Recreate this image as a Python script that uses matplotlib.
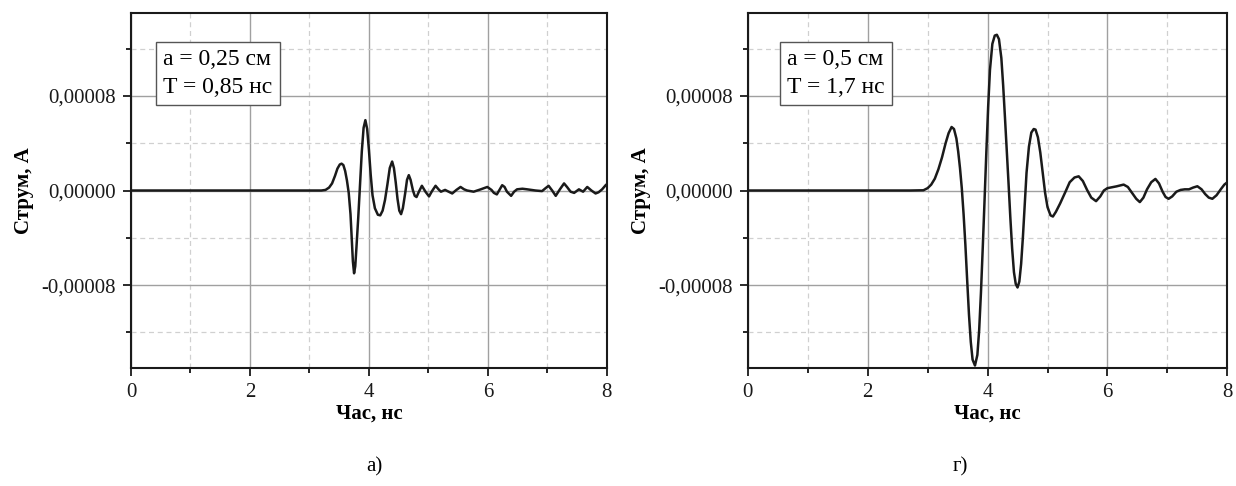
import matplotlib
matplotlib.use("Agg")
import matplotlib.pyplot as plt
from matplotlib.ticker import MultipleLocator, FuncFormatter

plt.rcParams['font.family'] = ['Liberation Serif', 'DejaVu Serif']

# панель а): a = 0,25 см, T = 0,85 нс  (час в нс, струм в А)
t_a = [0.0, 3.20, 3.27, 3.33, 3.38, 3.43, 3.47, 3.51, 3.54, 3.57, 3.60, 3.63, 3.66, 3.69,
       3.71, 3.73, 3.75, 3.77, 3.79, 3.82, 3.85, 3.88, 3.91, 3.94, 3.97, 4.00, 4.03, 4.06,
       4.10, 4.15, 4.19, 4.23, 4.27, 4.31, 4.35, 4.39, 4.42, 4.45, 4.48, 4.51, 4.54, 4.57,
       4.61, 4.64, 4.67, 4.70, 4.74, 4.77, 4.80, 4.84, 4.89, 4.95, 5.01, 5.06, 5.12, 5.17,
       5.21, 5.28, 5.34, 5.40, 5.47, 5.54, 5.60, 5.65, 5.76, 5.88, 5.99, 6.06, 6.10, 6.15,
       6.20, 6.24, 6.28, 6.32, 6.39, 6.44, 6.49, 6.58, 6.66, 6.80, 6.91, 6.97, 7.02, 7.08,
       7.14, 7.21, 7.28, 7.33, 7.39, 7.45, 7.53, 7.60, 7.67, 7.74, 7.81, 7.86, 7.92, 7.98]
i_a = [0.0, 0.0, 0.05e-5, 0.25e-5, 0.6e-5, 1.25e-5, 1.85e-5, 2.2e-5, 2.27e-5, 2.15e-5,
       1.65e-5, 0.85e-5, -0.2e-5, -2.0e-5, -4.0e-5, -6.0e-5, -7.0e-5, -6.4e-5, -4.8e-5,
       -2.3e-5, 0.5e-5, 3.3e-5, 5.3e-5, 5.95e-5, 5.2e-5, 3.4e-5, 1.3e-5, -0.4e-5, -1.5e-5,
       -2.05e-5, -2.1e-5, -1.7e-5, -0.8e-5, 0.5e-5, 1.9e-5, 2.45e-5, 1.9e-5, 0.7e-5,
       -0.7e-5, -1.7e-5, -2.0e-5, -1.5e-5, -0.2e-5, 0.9e-5, 1.3e-5, 0.9e-5, 0.0, -0.45e-5,
       -0.55e-5, -0.1e-5, 0.4e-5, -0.1e-5, -0.5e-5, -0.05e-5, 0.4e-5, 0.1e-5, -0.1e-5,
       0.05e-5, -0.1e-5, -0.25e-5, 0.05e-5, 0.3e-5, 0.1e-5, 0.0, -0.1e-5, 0.1e-5, 0.3e-5,
       0.05e-5, -0.2e-5, -0.33e-5, 0.1e-5, 0.45e-5, 0.3e-5, -0.1e-5, -0.45e-5, -0.1e-5,
       0.1e-5, 0.15e-5, 0.1e-5, 0.0, -0.05e-5, 0.2e-5, 0.4e-5, 0.0, -0.45e-5, 0.1e-5,
       0.6e-5, 0.3e-5, -0.1e-5, -0.2e-5, 0.1e-5, -0.1e-5, 0.3e-5, 0.0, -0.25e-5, -0.15e-5,
       0.1e-5, 0.45e-5]

# панель г): a = 0,5 см, T = 1,7 нс
t_g = [0.0, 2.71, 2.93, 3.00, 3.06, 3.12, 3.18, 3.24, 3.30, 3.35, 3.40, 3.44, 3.48, 3.51,
       3.54, 3.57, 3.60, 3.63, 3.66, 3.69, 3.72, 3.75, 3.79, 3.83, 3.86, 3.89, 3.92, 3.95,
       3.98, 4.01, 4.04, 4.08, 4.12, 4.155, 4.19, 4.23, 4.26, 4.29, 4.32, 4.35, 4.38, 4.41,
       4.44, 4.47, 4.50, 4.53, 4.56, 4.59, 4.62, 4.65, 4.69, 4.73, 4.77, 4.80, 4.84, 4.88,
       4.92, 4.96, 5.00, 5.05, 5.09, 5.14, 5.21, 5.30, 5.37, 5.45, 5.52, 5.59, 5.66, 5.73,
       5.81, 5.88, 5.94, 6.00, 6.05, 6.15, 6.27, 6.34, 6.41, 6.48, 6.54, 6.60, 6.66, 6.73,
       6.80, 6.86, 6.92, 6.97, 7.02, 7.08, 7.15, 7.22, 7.29, 7.36, 7.43, 7.50, 7.57, 7.63,
       7.69, 7.75, 7.82, 7.89, 7.95, 8.0]
i_g = [0.0, 0.0, 0.02e-5, 0.2e-5, 0.5e-5, 1.0e-5, 1.8e-5, 2.8e-5, 4.0e-5, 4.85e-5,
       5.37e-5, 5.2e-5, 4.4e-5, 3.3e-5, 1.9e-5, 0.2e-5, -2.0e-5, -4.6e-5, -7.6e-5,
       -10.5e-5, -12.8e-5, -14.3e-5, -14.8e-5, -13.9e-5, -11.8e-5, -8.6e-5, -4.8e-5,
       -0.8e-5, 3.3e-5, 7.1e-5, 10.2e-5, 12.4e-5, 13.1e-5, 13.17e-5, 12.8e-5, 11.2e-5,
       8.9e-5, 6.2e-5, 3.4e-5, 0.6e-5, -2.3e-5, -4.9e-5, -6.9e-5, -7.9e-5, -8.2e-5,
       -7.7e-5, -6.2e-5, -3.9e-5, -1.2e-5, 1.5e-5, 3.7e-5, 4.9e-5, 5.2e-5, 5.15e-5,
       4.5e-5, 3.2e-5, 1.5e-5, -0.2e-5, -1.4e-5, -2.1e-5, -2.2e-5, -1.8e-5, -1.1e-5,
       -0.1e-5, 0.7e-5, 1.1e-5, 1.2e-5, 0.8e-5, 0.05e-5, -0.6e-5, -0.9e-5, -0.5e-5, 0.0,
       0.2e-5, 0.25e-5, 0.35e-5, 0.5e-5, 0.3e-5, -0.2e-5, -0.7e-5, -0.98e-5, -0.6e-5,
       0.1e-5, 0.7e-5, 0.98e-5, 0.6e-5, -0.1e-5, -0.55e-5, -0.7e-5, -0.5e-5, -0.1e-5,
       0.05e-5, 0.1e-5, 0.1e-5, 0.25e-5, 0.36e-5, 0.1e-5, -0.3e-5, -0.6e-5, -0.7e-5,
       -0.4e-5, 0.1e-5, 0.5e-5, 0.7e-5]

labels = ["a = 0,25 см\nT = 0,85 нс", "a = 0,5 см\nT = 1,7 нс"]
captions = ["а)", "г)"]


def fmt_y(v, pos):
    s = ("%.5f" % v).replace(".", ",")
    return "0,00000" if s == "-0,00000" else s


fig = plt.figure(figsize=(12.36, 4.86), dpi=100)
ax1 = fig.add_axes([0.106, 0.243, 0.385, 0.730])
ax2 = fig.add_axes([0.605, 0.243, 0.388, 0.730])

panels = [(ax1, t_a, i_a, labels[0], captions[0], 0.068, 0.303),
          (ax2, t_g, i_g, labels[1], captions[1], 0.082, 0.777)]

for ax, t, i, lab, cap, bx, cx in panels:
    ax.plot(t, i, color="#1a1a1a", lw=1.8)
    ax.set_xlim(0, 8)
    ax.set_ylim(-0.00015, 0.00015)
    ax.xaxis.set_major_locator(MultipleLocator(2))
    ax.xaxis.set_minor_locator(MultipleLocator(1))
    ax.yaxis.set_major_locator(MultipleLocator(0.00008))
    ax.yaxis.set_minor_locator(MultipleLocator(0.00004))
    ax.yaxis.set_major_formatter(FuncFormatter(fmt_y))
    ax.grid(which="major", color="#a0a0a0", lw=1.0)
    ax.grid(which="minor", color="#d0d0d0", lw=0.9, ls=(0, (4, 3)))
    ax.set_axisbelow(True)
    ax.tick_params(which="major", direction="out", length=6, width=1.3, labelsize=15,
                   colors="#1a1a1a", pad=5)
    ax.tick_params(which="minor", direction="out", length=3.5, width=1.2)
    for s in ax.spines.values():
        s.set_linewidth(1.5)
        s.set_color("#1a1a1a")
    ax.set_xlabel("Час, нс", fontsize=15, fontweight="bold", labelpad=1)
    ax.set_ylabel("Струм, А", fontsize=15, fontweight="bold", labelpad=5)
    ax.text(bx, 0.90, lab, transform=ax.transAxes, fontsize=17, va="top", ha="left",
            linespacing=1.45,
            bbox=dict(boxstyle="square,pad=0.3", fc="white", ec="#555555", lw=1.0))
    fig.text(cx, 0.04, cap, fontsize=15, ha="center", va="center")

fig.savefig("out.png", dpi=100)
